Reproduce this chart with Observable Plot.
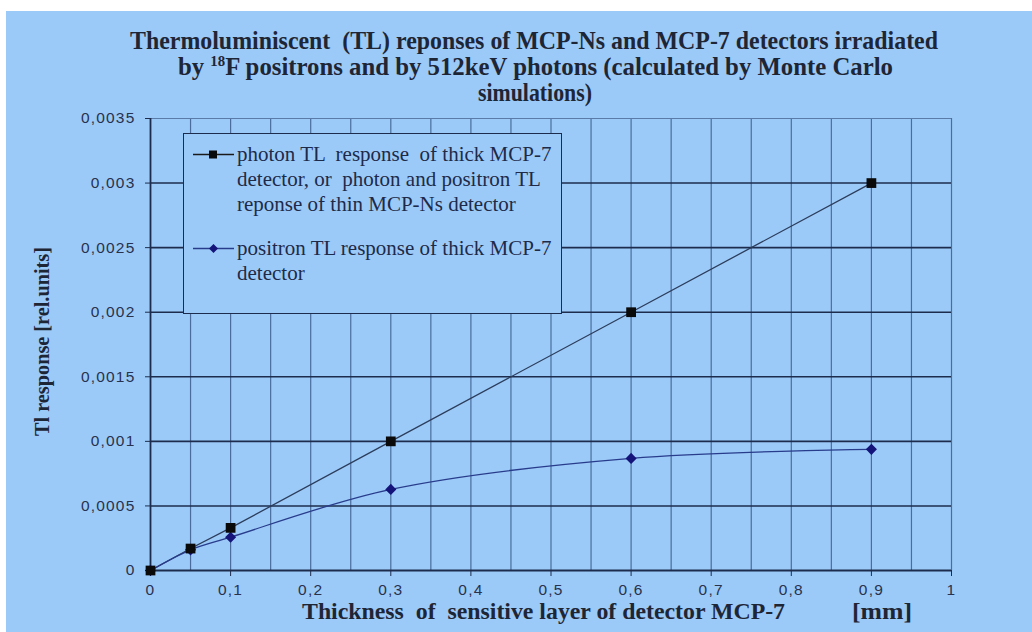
<!DOCTYPE html>
<html>
<head>
<meta charset="utf-8">
<script src="https://cdn.jsdelivr.net/npm/d3@7"></script>
<script src="https://cdn.jsdelivr.net/npm/@observablehq/plot@0.6"></script>
<style>
  html, body { margin: 0; padding: 0; background: #ffffff; }
  #page { position: relative; width: 1032px; height: 632px; overflow: hidden; background: #ffffff; }
  #bg { position: absolute; left: 6px; top: 11px; width: 1026px; height: 621px; background: #9ccaf8; }
  #chart { position: absolute; left: 0; top: 0; }
  #chart svg g[aria-label$="tick label"] text { letter-spacing: 1.2px; }
  #overlay { position: absolute; left: 0; top: 0; }
  #legend { position: absolute; left: 183px; top: 133px; width: 377px; height: 179px;
            border: 1.5px solid #1d2c4c; background: #9ccaf8; overflow: hidden;
            font-family: "Liberation Serif", "Times New Roman", serif; font-size: 21px; color: #1e2a48; }
  .entry { position: absolute; left: 0; width: 377px; }
  .entry svg { position: absolute; left: 9px; }
  .entry .txt { position: absolute; left: 53px; line-height: 25px; white-space: pre; }
</style>
</head>
<body>
<div id="page">
  <div id="bg"></div>
  <div id="chart"></div>
  <svg id="overlay" width="1032" height="632"></svg>
  <div id="legend"></div>
</div>
<script>
// ---- data ----
const thickness = [0, 0.05, 0.1, 0.3, 0.6, 0.9];
const photonResponse = [0, 0.00017, 0.00033, 0.001, 0.002, 0.003];
const positronResponse = [0, 0.00016, 0.000258, 0.000628, 0.000868, 0.000938];
const xTicks = [0, 0.1, 0.2, 0.3, 0.4, 0.5, 0.6, 0.7, 0.8, 0.9, 1];
const xTickLabels = ["0", "0,1", "0,2", "0,3", "0,4", "0,5", "0,6", "0,7", "0,8", "0,9", "1"];
const xGrid = [0.05, 0.1, 0.15, 0.2, 0.25, 0.3, 0.35, 0.4, 0.45, 0.5, 0.55, 0.6, 0.65, 0.7, 0.75, 0.8, 0.85, 0.9, 0.95, 1];
const yTicks = [0, 0.0005, 0.001, 0.0015, 0.002, 0.0025, 0.003, 0.0035];
const yTickLabels = ["0", "0,0005", "0,001", "0,0015", "0,002", "0,0025", "0,003", "0,0035"];
const titleLines = [
  "Thermoluminiscent  (TL) reponses of MCP-Ns and MCP-7 detectors irradiated",
  ["by ", "18", "F positrons and by 512keV photons (calculated by Monte Carlo"],
  "simulations)"
];
const xLabel = "Thickness  of  sensitive layer of detector MCP-7";
const xUnit = "[mm]";
const yLabel = "Tl response [rel.units]";
const legendLines1 = ["photon TL  response  of thick MCP-7", "detector, or  photon and positron TL", "reponse of thin MCP-Ns detector"];
const legendLines2 = ["positron TL response of thick MCP-7", "detector"];

const photon = thickness.map((t, i) => ({x: t, y: photonResponse[i]}));
const positron = thickness.map((t, i) => ({x: t, y: positronResponse[i]}));

const navy = "#1d2c4c";
const chart = Plot.plot({
  width: 1032,
  height: 632,
  marginLeft: 150,
  marginRight: 81,
  marginTop: 118,
  marginBottom: 62,
  style: {background: "transparent", color: "#28324e", fontFamily: "'Liberation Sans', Arial, sans-serif", fontSize: "15px"},
  x: {domain: [0, 1], label: null},
  y: {domain: [0, 0.0035], label: null},
  marks: [
    Plot.ruleX(xGrid, {stroke: "#4a6d9c", strokeWidth: 1.2}),
    Plot.ruleY(yTicks.filter(v => v > 0 && v < 0.0035), {stroke: navy, strokeWidth: 1.6}),
    Plot.ruleY([0.0035], {stroke: "#5a7aa8", strokeWidth: 1.2}),
    Plot.ruleY([0], {stroke: navy, strokeWidth: 1.8}),
    Plot.ruleX([0], {stroke: navy, strokeWidth: 1.8}),
    Plot.axisX({ticks: xTicks, tickFormat: (d, i) => xTickLabels[i], tickSize: 6, tickPadding: 7, stroke: navy, fontSize: 15.5}),
    Plot.axisY({ticks: yTicks, tickFormat: (d, i) => yTickLabels[i], tickSize: 5, tickPadding: 10, stroke: navy, fontSize: 15.5}),
    Plot.line(photon, {x: "x", y: "y", stroke: "#2c3d5c", strokeWidth: 1.3}),
    Plot.line(positron, {x: "x", y: "y", stroke: "#283c8c", strokeWidth: 1.3, curve: "catmull-rom"}),
    Plot.dot(positron, {x: "x", y: "y", symbol: "diamond2", r: 5, fill: "#14147a", stroke: "none"}),
    Plot.dot(photon, {x: "x", y: "y", symbol: "square", r: 5.5, fill: "#0a0a0a", stroke: "none"})
  ]
});
document.getElementById("chart").appendChild(chart);

// ---- titles & axis labels ----
const ov = d3.select("#overlay");
const serif = "'Liberation Serif', 'Times New Roman', serif";
const tcol = "#1e2636";
function addText(x, y, content, len, opts = {}) {
  const t = ov.append("text")
    .attr("x", x).attr("y", y)
    .attr("text-anchor", "middle")
    .attr("font-family", serif).attr("font-weight", "bold")
    .attr("font-size", opts.size || 25).attr("fill", tcol)
    .attr("textLength", len).attr("lengthAdjust", "spacingAndGlyphs")
    .style("white-space", "pre");
  if (opts.rotate) t.attr("transform", `rotate(-90 ${x} ${y})`);
  if (Array.isArray(content)) {
    t.append("tspan").text(content[0]);
    t.append("tspan").attr("font-size", 15).attr("dy", -9).text(content[1]);
    t.append("tspan").attr("dy", 9).text(content[2]);
  } else t.text(content);
  return t;
}
addText(534, 49, titleLines[0], 808);
addText(535.5, 75, titleLines[1], 715);
addText(535, 101, titleLines[2], 114);
addText(543.5, 619, xLabel, 483, {size: 24});
addText(882, 619, xUnit, 60, {size: 24});
addText(49, 341.5, yLabel, 189, {rotate: true, size: 21});

// ---- legend ----
const legend = d3.select("#legend");
const entries = [
  {lines: legendLines1, top: 8, stroke: "#1a1a1a", fill: "#0a0a0a", symbol: "square"},
  {lines: legendLines2, top: 102, stroke: "#283c8c", fill: "#14147a", symbol: "diamond"}
];
entries.forEach((e) => {
  const div = legend.append("div").attr("class", "entry").style("top", e.top + "px");
  const s = div.append("svg").attr("width", 42).attr("height", 25);
  s.append("line").attr("x1", 0).attr("x2", 41).attr("y1", 12.5).attr("y2", 12.5).attr("stroke", e.stroke).attr("stroke-width", 1.3);
  if (e.symbol === "square") s.append("rect").attr("x", 16).attr("y", 8.5).attr("width", 8).attr("height", 8).attr("fill", e.fill);
  else s.append("path").attr("d", "M20.5,8 L25,12.5 L20.5,17 L16,12.5Z").attr("fill", e.fill);
  div.append("div").attr("class", "txt").text(e.lines.join("\n"));
});
</script>
</body>
</html>
